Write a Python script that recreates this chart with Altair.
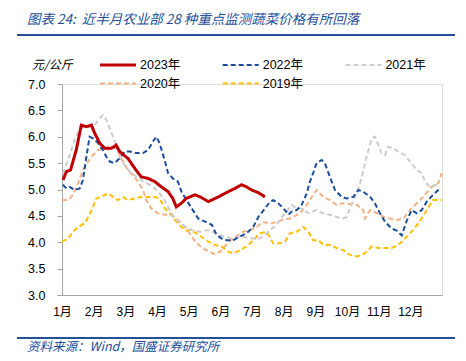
import altair as alt
import pandas as pd

title_text = "图表 24:\u00a0\u00a0近半月农业部 28 种重点监测蔬菜价格有所回落"
source_text = "资料来源：Wind，国盛证券研究所"
unit_text = "元/公斤"
month_labels = ["1月", "2月", "3月", "4月", "5月", "6月", "7月", "8月", "9月", "10月", "11月", "12月"]
years = ["2023年", "2022年", "2021年", "2020年", "2019年"]
colors = ["#C00000", "#1A4D9C", "#CCCCCC", "#F4B183", "#FFC000"]
dashes = [[1, 0], [5, 3], [5, 3], [5, 3], [5, 3]]
widths = [3, 2, 2, 2, 2]

# month position (0 = 1 Jan) and price (元/公斤)
m_2023 = [0.03, 0.14, 0.27, 0.45, 0.61, 0.77, 0.93, 1.03, 1.19, 1.35, 1.56, 1.71, 1.82, 2.08, 2.30, 2.50, 2.72, 2.93,
          3.14, 3.35, 3.50, 3.61, 3.77, 3.92, 4.20, 4.36, 4.62, 4.94, 5.25, 5.46, 5.67, 5.83, 5.99, 6.20, 6.41]
v_2023 = [5.18, 5.34, 5.37, 5.75, 6.22, 6.19, 6.22, 6.07, 5.88, 5.78, 5.78, 5.84, 5.72, 5.59, 5.40, 5.24, 5.21, 5.15,
          5.05, 4.96, 4.83, 4.67, 4.74, 4.83, 4.90, 4.86, 4.77, 4.86, 4.96, 5.02, 5.09, 5.05, 4.99, 4.94, 4.86]

m_2022 = [0.03, 0.14, 0.24, 0.40, 0.56, 0.66, 0.77, 0.87, 0.98, 1.14, 1.29, 1.40, 1.51, 1.66, 1.82, 1.98, 2.14, 2.35,
          2.56, 2.72, 2.87, 2.98, 3.08, 3.24, 3.35, 3.50, 3.66, 3.77, 3.87, 4.10, 4.30, 4.52, 4.73, 4.88, 5.04, 5.20,
          5.41, 5.62, 5.83, 6.04, 6.20, 6.41, 6.57, 6.67, 6.83, 7.04, 7.15, 7.25, 7.41, 7.57, 7.73, 7.83, 7.93, 8.04,
          8.20, 8.30, 8.46, 8.62, 8.83, 8.99, 9.20, 9.36, 9.51, 9.73, 9.88, 10.04, 10.20, 10.41, 10.57, 10.73, 10.88,
          11.04, 11.20, 11.36, 11.52, 11.72, 11.94]
v_2022 = [5.09, 5.02, 5.05, 4.99, 5.02, 5.18, 5.62, 6.00, 5.97, 5.88, 5.75, 5.62, 5.53, 5.50, 5.59, 5.72, 5.72, 5.69,
          5.69, 5.75, 5.91, 6.00, 5.88, 5.56, 5.31, 5.21, 5.15, 4.96, 4.86, 4.64, 4.45, 4.39, 4.33, 4.14, 4.07, 4.04,
          4.04, 4.11, 4.17, 4.29, 4.48, 4.64, 4.77, 4.80, 4.74, 4.61, 4.52, 4.58, 4.61, 4.71, 4.93, 5.15, 5.31, 5.50,
          5.56, 5.50, 5.24, 4.99, 4.86, 4.83, 4.86, 4.99, 4.96, 4.86, 4.74, 4.55, 4.39, 4.26, 4.22, 4.13, 4.40,
          4.61, 4.55, 4.61, 4.77, 4.90, 5.02]

m_2021 = [0.03, 0.19, 0.40, 0.56, 0.82, 1.03, 1.19, 1.29, 1.40, 1.51, 1.61, 1.71, 1.82, 1.98, 2.14, 2.35, 2.56, 2.77,
          2.93, 3.08, 3.24, 3.40, 3.56, 3.72, 3.92, 4.10, 4.36, 4.62, 4.83, 5.09, 5.36, 5.67, 5.99, 6.25, 6.41, 6.57,
          6.78, 6.94, 7.10, 7.25, 7.41, 7.57, 7.78, 8.04, 8.25, 8.46, 8.67, 8.88, 8.99, 9.09, 9.31, 9.46, 9.62, 9.78,
          9.88, 9.99, 10.09, 10.20, 10.30, 10.46, 10.62, 10.83, 10.99, 11.20, 11.36, 11.46, 11.62, 11.78, 11.94]
v_2021 = [5.30, 5.56, 5.94, 6.16, 6.19, 6.22, 6.35, 6.41, 6.32, 6.16, 6.00, 5.84, 5.62, 5.46, 5.34, 5.24, 5.15, 5.09,
          5.02, 4.93, 4.80, 4.61, 4.45, 4.36, 4.29, 4.23, 4.20, 4.23, 4.18, 4.11, 4.07, 4.11, 4.07, 4.07, 4.14, 4.23,
          4.33, 4.48, 4.58, 4.71, 4.64, 4.64, 4.55, 4.61, 4.55, 4.52, 4.48, 4.45, 4.48, 4.64, 4.93, 5.21, 5.62, 5.97,
          6.00, 5.84, 5.69, 5.65, 5.81, 5.78, 5.72, 5.65, 5.53, 5.37, 5.31, 5.15, 5.05, 5.09, 5.05]

m_2020 = [0.00, 0.19, 0.35, 0.51, 0.66, 0.82, 0.98, 1.14, 1.35, 1.51, 1.61, 1.77, 1.93, 2.08, 2.24, 2.40, 2.56, 2.66,
          2.82, 3.03, 3.24, 3.45, 3.61, 3.77, 3.92, 4.04, 4.23, 4.45, 4.67, 4.83, 4.99, 5.18, 5.40, 5.72, 5.94, 6.13,
          6.32, 6.63, 6.95, 7.20, 7.52, 7.73, 7.93, 8.04, 8.25, 8.46, 8.67, 8.88, 9.31, 9.51, 9.57, 9.73, 9.94, 10.15,
          10.36, 10.57, 10.78, 10.99, 11.20, 11.41, 11.62, 11.78, 11.88, 11.99]
v_2020 = [4.80, 4.80, 4.90, 5.12, 5.37, 5.53, 5.65, 5.75, 5.78, 5.75, 5.81, 5.72, 5.53, 5.37, 5.27, 5.15, 4.99, 4.80,
          4.64, 4.55, 4.52, 4.52, 4.45, 4.36, 4.26, 4.15, 4.00, 3.88, 3.82, 3.77, 3.82, 3.95, 4.07, 4.20, 4.23, 4.28,
          4.38, 4.36, 4.42, 4.45, 4.55, 4.71, 4.90, 4.99, 4.86, 4.80, 4.71, 4.74, 4.71, 4.61, 4.45, 4.61, 4.55, 4.48,
          4.45, 4.42, 4.45, 4.61, 4.74, 4.86, 5.02, 5.09, 5.12, 5.31]

m_2019 = [0.00, 0.19, 0.35, 0.51, 0.72, 0.87, 0.98, 1.08, 1.24, 1.45, 1.61, 1.77, 1.93, 2.08, 2.30, 2.50, 2.72, 2.93,
          3.08, 3.25, 3.45, 3.61, 3.77, 3.92, 4.04, 4.25, 4.62, 4.83, 5.04, 5.25, 5.41, 5.62, 5.83, 6.04, 6.25, 6.46,
          6.67, 6.88, 7.04, 7.20, 7.41, 7.62, 7.78, 7.93, 8.09, 8.25, 8.46, 8.67, 8.88, 9.09, 9.31, 9.46, 9.62, 9.78,
          9.99, 10.20, 10.41, 10.62, 10.83, 11.04, 11.25, 11.46, 11.62, 11.72, 11.99]
v_2019 = [4.01, 4.07, 4.20, 4.29, 4.36, 4.52, 4.67, 4.83, 4.86, 4.93, 4.86, 4.80, 4.86, 4.80, 4.83, 4.86, 4.86, 4.86,
          4.83, 4.64, 4.52, 4.39, 4.29, 4.22, 4.23, 4.17, 4.01, 3.95, 3.92, 3.82, 3.79, 3.85, 3.92, 4.04, 4.17, 4.20,
          3.98, 3.98, 4.01, 4.17, 4.20, 4.29, 4.20, 4.04, 4.04, 3.95, 3.95, 3.89, 3.85, 3.76, 3.73, 3.76, 3.82, 3.92,
          3.89, 3.89, 3.89, 3.95, 4.07, 4.20, 4.36, 4.55, 4.71, 4.80, 4.80]

series = {
    "2023年": (m_2023, v_2023),
    "2022年": (m_2022, v_2022),
    "2021年": (m_2021, v_2021),
    "2020年": (m_2020, v_2020),
    "2019年": (m_2019, v_2019),
}

FONT = "Liberation Sans, Noto Sans CJK SC, sans-serif"
CJK = "Noto Sans CJK SC, sans-serif"
BLUE = "#24509A"

W, H = 380, 211

label_js = "[" + ",".join("'" + s + "'" for s in month_labels) + "]"
x_enc = alt.X("m:Q", scale=alt.Scale(domain=[0, 12], nice=False, zero=False),
              axis=alt.Axis(title=None, values=list(range(12)), labelExpr=label_js + "[datum.value]",
                            ticks=False, grid=False, domainColor="#A6A6A6", labelFont=FONT,
                            labelFontSize=12, labelColor="#000000", labelPadding=11,
                            labelAlign="center"))
y_enc = alt.Y("v:Q", scale=alt.Scale(domain=[3, 7], nice=False, zero=False),
              axis=alt.Axis(title=None, values=[3, 3.5, 4, 4.5, 5, 5.5, 6, 6.5, 7], format=".1f", grid=False,
                            domainColor="#A6A6A6", tickColor="#A6A6A6", tickSize=5, labelPadding=12,
                            labelFont=FONT, labelFontSize=12.5, labelColor="#000000"))

layers = []
# draw order: oldest first so 2023 is on top
for i in reversed(range(len(years))):
    yr = years[i]
    ms, vs = series[yr]
    df = pd.DataFrame({"m": ms, "v": vs})
    ch = alt.Chart(df).mark_line(color=colors[i], strokeDash=dashes[i], strokeWidth=widths[i],
                                 interpolate="linear").encode(x=x_enc, y=y_enc)
    layers.append(ch)

# legend (manual, two rows of three columns)
for i, yr in enumerate(years):
    col, row = i % 3, i // 3
    x0 = 38 + col * 122.7
    y0 = -19 + row * 18.5
    one = pd.DataFrame({"label": [yr]})
    layers.append(alt.Chart(one).mark_rule(color=colors[i], strokeDash=dashes[i], strokeWidth=widths[i])
                  .encode(x=alt.value(x0), x2=alt.value(x0 + 36), y=alt.value(y0)))
    layers.append(alt.Chart(one).mark_text(align="left", baseline="middle", font=FONT, fontSize=12.5,
                                           color="#000000")
                  .encode(x=alt.value(x0 + 40), y=alt.value(y0), text="label:N"))

# unit label
layers.append(alt.Chart(pd.DataFrame({"t": [unit_text]})).mark_text(
    align="left", baseline="middle", font=CJK, fontSize=12, fontStyle="italic", color="#000000")
    .encode(x=alt.value(-30), y=alt.value(-19), text="t:N"))

# title and rules
layers.append(alt.Chart(pd.DataFrame({"t": [title_text]})).mark_text(
    align="left", baseline="middle", font=CJK, fontSize=13.5, fontStyle="italic", color=BLUE)
    .encode(x=alt.value(-35), y=alt.value(-64), text="t:N"))
layers.append(alt.Chart(pd.DataFrame({"a": [0]})).mark_rule(color=BLUE, strokeWidth=2)
              .encode(x=alt.value(-45), x2=alt.value(393), y=alt.value(-49)))
layers.append(alt.Chart(pd.DataFrame({"a": [0]})).mark_rule(color=BLUE, strokeWidth=2)
              .encode(x=alt.value(-45), x2=alt.value(393), y=alt.value(254)))
layers.append(alt.Chart(pd.DataFrame({"t": [source_text]})).mark_text(
    align="left", baseline="middle", font=CJK, fontSize=12.5, fontStyle="italic", color=BLUE)
    .encode(x=alt.value(-35), y=alt.value(263), text="t:N"))

chart = alt.layer(*layers).properties(
    width=W, height=H,
    padding={"left": 54, "top": 76, "right": 16, "bottom": 66},
    autosize=alt.AutoSizeParams(type="none"),
).configure_view(stroke=None).configure(background="#FFFFFF")

chart.save("out.html", embed_options={"renderer": "svg", "actions": False})
